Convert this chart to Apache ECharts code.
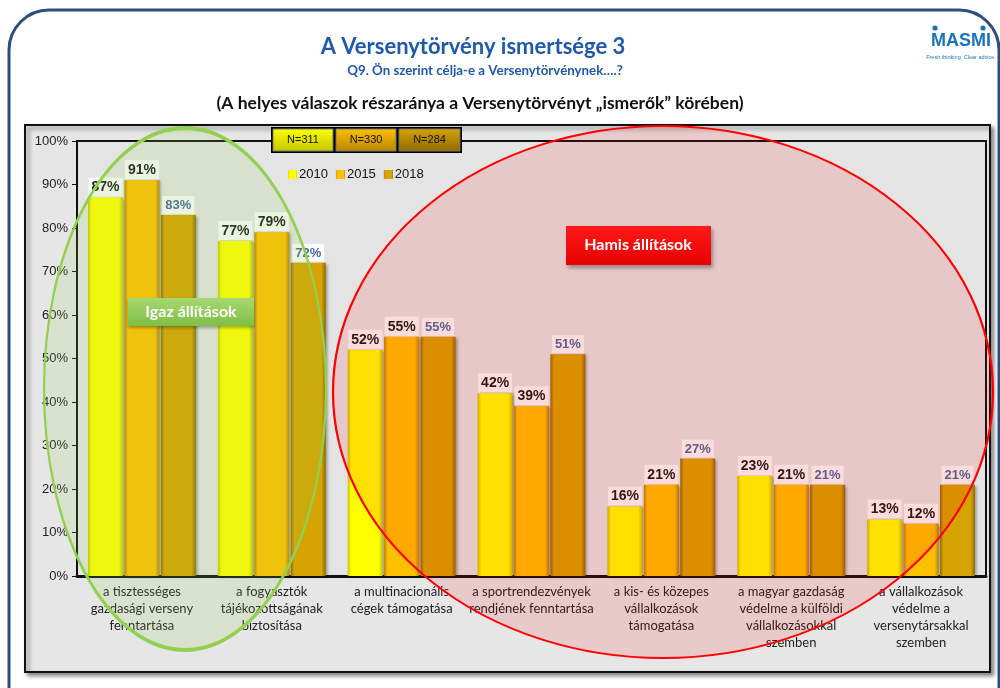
<!DOCTYPE html>
<html>
<head>
<meta charset="utf-8">
<script src="https://cdn.jsdelivr.net/npm/echarts@6/dist/echarts.min.js"></script>
<style>
  html, body { margin: 0; padding: 0; background: #fff; }
  #main { width: 1000px; height: 688px; }
</style>
</head>
<body>
<div id="main"></div>
<script>
// adatok
var categories = [
  'a tisztességes\ngazdasági verseny\nfenntartása',
  'a fogyasztók\ntájékozottságának\nbiztosítása',
  'a multinacionális\ncégek támogatása',
  'a sportrendezvények\nrendjének fenntartása',
  'a kis- és közepes\nvállalkozások\ntámogatása',
  'a magyar gazdaság\nvédelme a külföldi\nvállalkozásokkal\nszemben',
  'a vállalkozások\nvédelme a\nversenytársakkal\nszemben'
];
var years = ['2010', '2015', '2018'];
var sampleSizes = ['N=311', 'N=330', 'N=284'];
var v2010 = [87, 77, 52, 42, 16, 23, 13];
var v2015 = [91, 79, 55, 39, 21, 21, 12];
var v2018 = [83, 72, 55, 51, 27, 21, 21];
var yTicks = [0, 10, 20, 30, 40, 50, 60, 70, 80, 90, 100];

var baseColors = ['#ffff00', '#ffc000', '#d6a300'];
var edgeColors = ['#c4c400', '#b88400', '#8f6a00'];
var labelColors = ['#1a1a1a', '#1a1a1a', '#4a6a9c'];

function bevel(i) {
  return new echarts.graphic.LinearGradient(0, 0, 1, 0, [
    { offset: 0, color: edgeColors[i] },
    { offset: 0.1, color: baseColors[i] },
    { offset: 0.88, color: baseColors[i] },
    { offset: 1, color: edgeColors[i] }
  ]);
}

var chartDom = document.getElementById('main');
var myChart = echarts.init(chartDom);
var option;

var seriesData = [v2010, v2015, v2018];
var series = seriesData.map(function (d, i) {
  return {
    name: years[i],
    type: 'bar',
    data: d,
    barWidth: 35,
    barGap: '4%',
    itemStyle: {
      color: bevel(i),
      shadowBlur: 3,
      shadowOffsetX: 2,
      shadowOffsetY: 1,
      shadowColor: 'rgba(0,0,0,0.35)'
    },
    label: {
      show: true,
      position: 'top',
      distance: 1,
      formatter: '{c}%',
      fontFamily: 'Arial',
      fontWeight: 'bold',
      fontSize: i === 2 ? 13 : 14,
      color: labelColors[i],
      backgroundColor: 'rgba(255,255,255,0.85)',
      padding: [3, 3, 2, 3]
    }
  };
});

// N dobozok
var nBoxes = [];
var nX = [273, 336, 399];
var nW = [60, 60, 61];
nBoxes.push({
  type: 'rect', z: 70,
  shape: { x: 271, y: 127, width: 191, height: 26 },
  style: { fill: '#000' }
});
sampleSizes.forEach(function (t, i) {
  nBoxes.push({
    type: 'rect', z: 71,
    shape: { x: nX[i], y: 129, width: nW[i], height: 22 },
    style: {
      fill: new echarts.graphic.LinearGradient(0, 0, 0, 1, [
        { offset: 0, color: baseColors[i] },
        { offset: 1, color: edgeColors[i] }
      ]),
      stroke: '#777', lineWidth: 1
    }
  });
  nBoxes.push({
    type: 'text', z: 72,
    x: nX[i] + nW[i] / 2, y: 140,
    style: { text: t, font: '11px Arial', fill: '#111', align: 'center', verticalAlign: 'middle' }
  });
});

option = {
  backgroundColor: '#ffffff',
  animation: false,
  grid: {
    left: 77, right: 14, top: 141, bottom: 112,
    show: true,
    backgroundColor: '#e4e4e4',
    borderColor: '#111',
    borderWidth: 2
  },
  legend: {
    data: years,
    left: 283,
    top: 163,
    itemWidth: 9,
    itemHeight: 9,
    itemGap: 8,
    icon: 'rect',
    textStyle: { fontFamily: 'Arial', fontSize: 13, color: '#111', padding: [0, 0, 0, -3] }
  },
  xAxis: {
    type: 'category',
    data: categories,
    axisLine: { lineStyle: { color: '#111', width: 3 } },
    axisTick: { show: false },
    axisLabel: {
      interval: 0,
      fontFamily: 'Lato',
      fontSize: 13,
      lineHeight: 17,
      color: '#222',
      margin: 7
    }
  },
  yAxis: {
    type: 'value',
    min: yTicks[0],
    max: yTicks[yTicks.length - 1],
    interval: 10,
    axisLine: { show: true, lineStyle: { color: '#111', width: 1.5 } },
    axisTick: { show: true, length: 5, lineStyle: { color: '#111' } },
    splitLine: { show: false },
    axisLabel: {
      formatter: '{value}%',
      fontFamily: 'Arial',
      fontSize: 13,
      color: '#222',
      margin: 9
    }
  },
  graphic: [
    // keret
    {
      type: 'rect', z: -20,
      shape: { x: 9, y: 10, width: 990, height: 720, r: 40 },
      style: { fill: '#fff', stroke: '#2e4d7d', lineWidth: 3 }
    },
    {
      type: 'rect', z: -10,
      shape: { x: 25, y: 125, width: 965, height: 547 },
      style: {
        fill: '#e6e6e6', stroke: '#111', lineWidth: 2,
        shadowBlur: 4, shadowOffsetX: 3, shadowOffsetY: 3, shadowColor: 'rgba(0,0,0,0.45)'
      }
    },
    {
      type: 'text', z: 80, x: 473, y: 47,
      style: { text: 'A Versenytörvény ismertsége 3', font: 'bold 22px Lato', fill: '#1f5aa8', align: 'center', verticalAlign: 'middle' }
    },
    {
      type: 'text', z: 80, x: 485, y: 71,
      style: { text: 'Q9. Ön szerint célja-e a Versenytörvénynek….?', font: 'bold 13.3px Lato', fill: '#1f5aa8', align: 'center', verticalAlign: 'middle' }
    },
    {
      type: 'text', z: 80, x: 480, y: 103,
      style: { text: '(A helyes válaszok részaránya a Versenytörvényt „ismerők” körében)', font: 'bold 17.5px Lato', fill: '#111', align: 'center', verticalAlign: 'middle' }
    },
    {
      type: 'text', z: 80, x: 961, y: 41,
      style: { text: 'MASMI', font: 'bold 18px Arial', fill: '#1b74b9', align: 'center', verticalAlign: 'middle' }
    },
    {
      type: 'circle', z: 80, shape: { cx: 935, cy: 28, r: 2.6 }, style: { fill: '#1b74b9' }
    },
    {
      type: 'circle', z: 80, shape: { cx: 983, cy: 28, r: 2.6 }, style: { fill: '#1b74b9' }
    },
    {
      type: 'text', z: 80, x: 961, y: 57,
      style: { text: 'Fresh thinking. Clear advice.', font: '5.5px Arial', fill: '#1b74b9', align: 'center', verticalAlign: 'middle' }
    },
    // ellipszisek
    {
      type: 'circle', z: 50,
      x: 185, y: 389, scaleX: 141, scaleY: 261,
      shape: { cx: 0, cy: 0, r: 1 },
      style: { fill: 'rgba(146,208,80,0.15)', stroke: '#92d050', lineWidth: 3, strokeNoScale: true }
    },
    {
      type: 'circle', z: 50,
      x: 663, y: 392, scaleX: 330, scaleY: 266,
      shape: { cx: 0, cy: 0, r: 1 },
      style: { fill: 'rgba(255,0,0,0.12)', stroke: '#ff0000', lineWidth: 2, strokeNoScale: true }
    },
    {
      type: 'rect', z: 60,
      shape: { x: 128, y: 298, width: 126, height: 28 },
      style: {
        fill: new echarts.graphic.LinearGradient(0, 0, 0, 1, [
          { offset: 0, color: '#a6d873' }, { offset: 1, color: '#7fbf45' }
        ]),
        shadowBlur: 3, shadowOffsetY: 2, shadowColor: 'rgba(0,0,0,0.3)'
      }
    },
    {
      type: 'text', z: 61, x: 191, y: 312,
      style: { text: 'Igaz állítások', font: 'bold 16px Lato', fill: '#fff', align: 'center', verticalAlign: 'middle' }
    },
    {
      type: 'rect', z: 60,
      shape: { x: 566, y: 226, width: 145, height: 39 },
      style: {
        fill: new echarts.graphic.LinearGradient(0, 0, 0, 1, [
          { offset: 0, color: '#ff1a1a' }, { offset: 1, color: '#e60000' }
        ]),
        shadowBlur: 4, shadowOffsetX: 2, shadowOffsetY: 3, shadowColor: 'rgba(0,0,0,0.35)'
      }
    },
    {
      type: 'text', z: 61, x: 638, y: 245,
      style: { text: 'Hamis állítások', font: 'bold 16px Lato', fill: '#fff', align: 'center', verticalAlign: 'middle' }
    }
  ].concat(nBoxes),
  series: series
};

option && myChart.setOption(option);
</script>
</body>
</html>
